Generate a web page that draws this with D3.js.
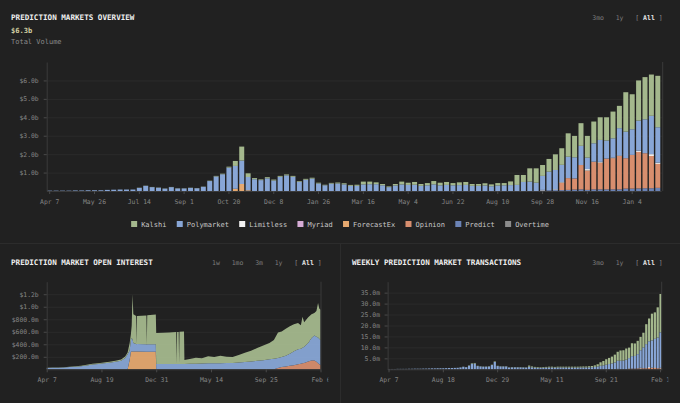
<!DOCTYPE html>
<html>
<head>
<meta charset="utf-8">
<title>Prediction Markets Overview</title>
<script src="https://cdnjs.cloudflare.com/ajax/libs/d3/7.8.5/d3.min.js"></script>
<style>
  html, body { margin: 0; padding: 0; background: #212121; }
  svg { display: block; }
  text { font-family: "DejaVu Sans Mono", "Liberation Mono", monospace; }
</style>
</head>
<body>
<script>
//market names and colours, in legend order
var seriesNames = ["Kalshi", "Polymarket", "Limitless", "Myriad", "ForecastEx", "Opinion", "Predict", "Overtime"];
var seriesColors = ["#a4b88d", "#88a6d6", "#f2f2f2", "#d6acd6", "#e6a970", "#d88e6e", "#6b83b6", "#8c8c8c"];

//weekly volume in $ billions, one value per week starting Apr 7 2024
var volStart = "2024-04-07";
var volKalshi = [
  0, 0, 0, 0, 0, 0, 0, 0, 0, 0, 0, 0,
  0, 0, .01, .01, .01, .01, .01, .01, .01, .01, .01, .01,
  .01, .02, .03, .03, .05, .27, .76, .2, .06, .04, .06, .05,
  .05, .05, .05, .04, .05, .05, .04, .03, .04, .05, .06, .05,
  .06, .15, .14, .1, .07, .04, .08, .15, .12, .15, .1, .12,
  .18, .14, .16, .12, .15, .16, .1, .1, .12, .1, .13, .12,
  .2, .54, .38, .72, .78, .59, .69, .85, .9, 1.27, 1.16, 1.23,
  1.18, 1.18, 1.23, 1.26, 1.45, 1.21, 2.14, 1.9, 2.18, 2.29, 2.24, 2.79
];
var volPolymarket = [
  .02, .02, .02, .02, .03, .03, .04, .04, .04, .06, .07, .08,
  .08, .08, .17, .28, .21, .18, .13, .21, .14, .14, .17, .15,
  .23, .54, .79, .91, 1.27, 1.24, 1.27, .72, .64, .59, .69, .57,
  .77, .85, .77, .5, .61, .67, .41, .31, .4, .41, .36, .28,
  .28, .36, .37, .37, .31, .21, .3, .36, .33, .34, .28, .31,
  .36, .31, .33, .31, .32, .33, .28, .28, .3, .26, .3, .31,
  .32, .33, .49, .51, .45, .76, 1.01, 1.05, .94, 1.16, 1.15, 1.04,
  .62, 1.0, 1.19, .98, 1.05, 1.48, 1.44, 1.39, 1.63, 1.84, 2.08, 1.92
];
var volLimitless = [
  0, 0, 0, 0, 0, 0, 0, 0, 0, 0, 0, 0,
  0, 0, 0, 0, 0, 0, 0, 0, 0, 0, 0, 0,
  0, 0, 0, 0, 0, 0, 0, 0, 0, 0, 0, 0,
  0, 0, 0, 0, 0, 0, 0, 0, 0, 0, 0, 0,
  0, 0, 0, 0, 0, 0, 0, 0, 0, 0, 0, 0,
  0, 0, 0, 0, 0, 0, 0, 0, 0, 0, 0, 0,
  0, 0, 0, 0, 0, .03, 0, .04, .03, 0, 0, 0,
  .08, 0, .04, 0, .03, .03, 0, 0, .07, 0, .1, .07
];
var volForecastEx = [
  0, 0, 0, 0, 0, 0, 0, 0, 0, 0, 0, 0,
  0, 0, 0, 0, 0, 0, 0, 0, 0, 0, 0, 0,
  0, 0, 0, 0, 0, .12, .38, .04, 0, 0, 0, 0,
  0, 0, 0, 0, 0, 0, 0, 0, 0, 0, 0, 0,
  0, 0, 0, 0, 0, 0, 0, 0, 0, 0, 0, 0,
  0, 0, 0, 0, 0, 0, 0, 0, 0, 0, 0, 0,
  0, 0, 0, 0, 0, 0, 0, 0, 0, 0, 0, 0,
  0, 0, 0, 0, 0, 0, 0, 0, 0, 0, 0, 0
];
var volOpinion = [
  0, 0, 0, 0, 0, 0, 0, 0, 0, 0, 0, 0,
  0, 0, 0, 0, 0, 0, 0, 0, 0, 0, 0, 0,
  0, 0, 0, 0, 0, 0, 0, 0, 0, 0, 0, 0,
  0, 0, 0, 0, 0, 0, 0, 0, 0, 0, 0, 0,
  0, 0, 0, 0, 0, 0, 0, 0, 0, 0, 0, 0,
  0, 0, 0, 0, 0, 0, 0, 0, 0, 0, 0, 0,
  0, 0, 0, 0, 0, 0, 0, 0, .4, .64, .6, 1.32,
  1.05, 1.5, 1.45, 1.67, 1.69, 1.81, 1.65, 1.83, 1.98, 1.9, 1.75, 1.3
];
var volPredict = [
  0, 0, 0, 0, 0, 0, 0, 0, 0, 0, 0, 0,
  0, 0, 0, 0, 0, 0, 0, 0, 0, 0, 0, 0,
  0, 0, 0, 0, 0, 0, 0, 0, 0, 0, 0, 0,
  0, 0, 0, 0, 0, 0, 0, 0, 0, 0, 0, 0,
  0, 0, 0, 0, 0, 0, 0, 0, 0, 0, 0, 0,
  0, 0, 0, 0, 0, 0, 0, 0, 0, 0, 0, 0,
  0, 0, 0, 0, 0, .03, .04, .05, .05, .06, .08, .09,
  .06, .09, .09, .09, .09, .09, .13, .13, .14, .15, .15, .17
];
var volYTicks = [1, 2, 3, 4, 5, 6];
var volTotalLabel = "$6.3b";

//open interest in $ millions, read at these days after Apr 7 2024
var oiStart = "2024-04-07";
var oiDays = [0, 14, 28, 42, 56, 70, 84, 98, 112, 126, 140, 154, 168, 182, 192, 198, 203, 206, 208, 210,
  212, 219, 220, 221, 244, 245, 246, 260, 267, 268, 285, 300, 317, 318, 319, 323, 324, 325, 336, 337,
  350, 365, 380, 395, 410, 425, 440, 455, 470, 485, 500, 515, 530, 545, 556, 566, 575, 585, 595, 605,
  615, 622, 626, 630, 640, 648, 655, 660, 664, 667, 670];
var oiKalshi = [3, 3, 4, 4, 5, 6, 8, 10, 12, 13, 14, 16, 18, 20, 25, 30, 120, 90, 200, 720,
  460, 445, 0, 447, 460, 2, 462, 470, 475, 495, 500, 504, 509, 9, 511, 512, 9, 514, 519, 65,
  77, 95, 83, 115, 100, 117, 100, 95, 122, 150, 170, 205, 235, 260, 300, 410, 410, 435, 440, 430,
  420, 375, 495, 390, 410, 380, 360, 410, 550, 480, 480];
var oiPolymarket = [22, 24, 26, 30, 35, 41, 50, 62, 78, 85, 96, 104, 120, 135, 180, 240, 150, 190, 215, 195,
  135, 120, 115, 120, 118, 116, 118, 118, 118, 85, 85, 86, 86, 86, 86, 86, 86, 86, 86, 85,
  88, 90, 92, 95, 95, 98, 100, 100, 108, 115, 125, 135, 145, 160, 170, 160, 160, 170, 195, 225,
  240, 240, 250, 260, 295, 360, 400, 400, 415, 410, 400];
var oiForecastEx = [0, 0, 0, 0, 0, 0, 0, 0, 0, 0, 0, 0, 0, 0, 0, 0, 150, 280, 285, 285,
  285, 285, 285, 285, 282, 282, 282, 282, 282, 0, 0, 0, 0, 0, 0, 0, 0, 0, 0, 0,
  0, 0, 0, 0, 0, 0, 0, 0, 0, 0, 0, 0, 0, 0, 0, 0, 0, 0, 0, 0,
  0, 0, 0, 0, 0, 0, 0, 0, 0, 0, 0];
var oiOpinion = [0, 0, 0, 0, 0, 0, 0, 0, 0, 0, 0, 0, 0, 0, 0, 0, 0, 0, 0, 0,
  0, 0, 0, 0, 0, 0, 0, 0, 0, 0, 0, 0, 0, 0, 0, 0, 0, 0, 0, 0,
  0, 0, 0, 0, 0, 0, 0, 0, 0, 0, 0, 0, 0, 0, 0, 20, 35, 45, 55, 65,
  80, 90, 95, 100, 125, 140, 140, 120, 95, 80, 70];
var oiYTicks = [200, 400, 600, 800, 1000, 1200];
var oiXTicks = ["2024-04-07", "2024-08-19", "2024-12-31", "2025-05-14", "2025-09-25", "2026-02-06"];
var oiEnd = "2026-02-06";

//weekly transactions in millions, same weeks as the volume chart
var txKalshi = [
  .01, .01, .01, .01, .01, .01, .01, .01, .01, .01, .02, .02,
  .02, .02, .02, .02, .02, .02, .02, .02, .02, .02, .02, .02,
  .02, .05, .05, .05, .15, .25, .3, .12, .1, .1, .1, .1,
  .15, .25, .12, .1, .1, .1, .08, .1, .1, .1, .12, .12,
  .12, .5, .4, .33, .3, .27, .3, .33, .36, .36, .33, .36,
  .36, .38, .38, .38, .4, .4, .4, .42, .45, .45, .5, .55,
  .7, 1.0, 1.6, 2.0, 2.5, 2.8, 3.1, 3.6, 4.1, 4.7, 4.7, 5.1,
  4.8, 5.9, 5.7, 6.1, 6.1, 6.7, 9.1, 10.4, 12.2, 12.1, 13.8, 17.5
];
var txPolymarket = [
  .14, .14, .14, .19, .19, .19, .19, .24, .24, .29, .28, .28,
  .33, .33, .38, .43, .43, .48, .48, .48, .53, .58, .58, .63,
  .68, .85, 1.15, .95, 1.65, 2.5, 2.6, 1.48, 1.3, 1.2, 1.2, 1.3,
  1.95, 3.35, 1.48, 1.3, 1.3, 1.3, .82, .9, .9, .9, .88, .83,
  .78, 1.2, .9, .77, .7, .63, .7, .77, .84, .84, .77, .84,
  .84, .82, .82, .82, .8, .8, .8, .83, .85, .85, .9, .95,
  1.1, 1.3, 1.6, 1.8, 2.1, 2.4, 2.7, 3.1, 3.7, 3.9, 4.0, 4.4,
  4.7, 5.7, 5.8, 6.5, 8.0, 9.5, 11.0, 11.8, 12.5, 13.0, 14.0, 16.2
];
var txLimitless = [
  0, 0, 0, 0, 0, 0, 0, 0, 0, 0, 0, 0,
  0, 0, 0, 0, 0, 0, 0, 0, 0, 0, 0, 0,
  0, 0, 0, 0, 0, 0, 0, 0, 0, 0, 0, 0,
  0, 0, 0, 0, 0, 0, 0, 0, 0, 0, 0, 0,
  0, 0, 0, 0, 0, 0, 0, 0, 0, 0, 0, 0,
  0, 0, 0, 0, 0, 0, 0, 0, 0, 0, 0, 0,
  0, 0, 0, 0, 0, 0, 0, 0, .2, 0, 0, 0,
  .2, 0, 0, 0, .3, 0, 0, .4, 0, .3, 0, .3
];
var txOpinion = [
  0, 0, 0, 0, 0, 0, 0, 0, 0, 0, 0, 0,
  0, 0, 0, 0, 0, 0, 0, 0, 0, 0, 0, 0,
  0, 0, 0, 0, 0, 0, 0, 0, 0, 0, 0, 0,
  0, 0, 0, 0, 0, 0, 0, 0, 0, 0, 0, 0,
  0, 0, 0, 0, 0, 0, 0, 0, 0, 0, 0, 0,
  0, 0, 0, 0, 0, 0, 0, 0, 0, 0, 0, 0,
  0, 0, 0, 0, 0, 0, 0, 0, 0, 0, 0, 0,
  .2, .3, .3, .4, .4, .5, .5, .6, .7, .6, .5, .4
];
var txYTicks = [5, 10, 15, 20, 25, 30, 35];
var txXTickIdx = [0, 19, 38, 57, 76, 95];

//shared helpers
var parseDate = d3.timeParse("%Y-%m-%d");
var fmtDate = d3.timeFormat("%b %-d");
var color = d3.scaleOrdinal(seriesNames, seriesColors);
var stackKeys = seriesNames.slice().reverse();   //bottom of the stack is the end of the legend
var weekDate = function(i) { return d3.timeWeek.offset(parseDate(volStart), i); };

var axisText = "#858585",
    axisLine = "#3b3b3b",
    gridLine = "#2b2b2b";

//colour the axis parts after d3 has drawn them
function styleAxis(g) {
  g.select(".domain").attr("stroke", axisLine);
  g.selectAll(".tick line").attr("stroke", "#4a4a4a");
  g.selectAll(".tick text")
    .attr("fill", axisText)
    .style("font-size", "6.4px");
}

//range buttons in each panel header, right aligned at xEnd
function addButtons(svg, labels, xEnd, y) {
  var t = svg.append("text")
    .attr("x", xEnd)
    .attr("y", y)
    .attr("text-anchor", "end")
    .style("font-size", "6.5px")
    .attr("xml:space", "preserve");
  labels.forEach(function(l) {
    t.append("tspan").attr("fill", "#7d7d7d").text(l + "   ");
  });
  t.append("tspan").attr("fill", "#8a8a8a").text("[ ");
  t.append("tspan").attr("fill", "#e6e6e6").style("font-weight", "bold").text("All");
  t.append("tspan").attr("fill", "#8a8a8a").text(" ]");
}

function addTitle(svg, x, y, txt) {
  svg.append("text")
    .attr("x", x)
    .attr("y", y)
    .attr("fill", "#efefef")
    .style("font-size", "7.6px")
    .style("font-weight", "bold")
    .text(txt);
}

//the one svg holding all three panels
var svg = d3.select("body").append("svg")
  .attr("width", 680)
  .attr("height", 403);

svg.append("rect").attr("width", 680).attr("height", 403).attr("fill", "#212121");

//panel separators
svg.append("line").attr("x1", 0).attr("x2", 680).attr("y1", 243.5).attr("y2", 243.5).attr("stroke", "#2c2c2c");
svg.append("line").attr("x1", 340.5).attr("x2", 340.5).attr("y1", 244).attr("y2", 403).attr("stroke", "#2c2c2c");

//================= top panel: weekly volume =================
addTitle(svg, 11, 19.5, "PREDICTION MARKETS OVERVIEW");
addButtons(svg, ["3mo", "1y"], 662.7, 20);

svg.append("text")
  .attr("x", 11).attr("y", 33)
  .attr("fill", "#d3cfa3")
  .style("font-size", "7.1px")
  .style("font-weight", "bold")
  .text(volTotalLabel);

svg.append("text")
  .attr("x", 11).attr("y", 43.5)
  .attr("fill", "#8a8a8a")
  .style("font-size", "7px")
  .text("Total Volume");

var volRows = volKalshi.map(function(v, i) {
  return {
    i: i,
    Kalshi: volKalshi[i],
    Polymarket: volPolymarket[i],
    Limitless: volLimitless[i],
    ForecastEx: volForecastEx[i],
    Opinion: volOpinion[i],
    Predict: volPredict[i]
  };
});

var volX = d3.scaleBand()
  .domain(d3.range(volRows.length))
  .range([46.5, 661])
  .paddingInner(0.22)
  .paddingOuter(0.11);

var volY = d3.scaleLinear().domain([0, 7]).range([191, 62]);

//grid lines
svg.append("g")
  .attr("transform", "translate(46.7,0)")
  .call(d3.axisLeft(volY).tickValues(volYTicks).tickSize(-616).tickFormat(""))
  .call(function(g) {
    g.select(".domain").remove();
    g.selectAll(".tick line").attr("stroke", gridLine);
  });

var volStack = d3.stack()
  .keys(stackKeys)
  .value(function(d, k) { return d[k] || 0; })(volRows);

svg.append("g")
  .selectAll("g")
  .data(volStack)
  .join("g")
  .attr("fill", function(d) { return color(d.key); })
  .selectAll("rect")
  .data(function(d) { return d; })
  .join("rect")
  .attr("x", function(d) { return volX(d.data.i); })
  .attr("width", volX.bandwidth())
  .attr("y", function(d) { return volY(d[1]); })
  .attr("height", function(d) { return Math.max(0, volY(d[0]) - volY(d[1])); });

svg.append("g")
  .attr("transform", "translate(46.7,0)")
  .call(d3.axisLeft(volY)
    .tickValues(volYTicks)
    .tickSize(3)
    .tickSizeOuter(0)
    .tickPadding(5)
    .tickFormat(function(d) { return "$" + d.toFixed(1) + "b"; }))
  .call(styleAxis);

svg.append("g")
  .attr("transform", "translate(0,191)")
  .call(d3.axisBottom(volX)
    .tickValues(d3.range(0, volRows.length, 7))
    .tickSize(3)
    .tickSizeOuter(0)
    .tickPadding(5.5)
    .tickFormat(function(i) { return fmtDate(weekDate(i)); }))
  .call(styleAxis);

svg.append("line")
  .attr("x1", 662.7).attr("x2", 662.7)
  .attr("y1", 62).attr("y2", 191)
  .attr("stroke", axisLine);

//legend, centred under the chart
var legend = svg.append("g");
var lx = 0;
seriesNames.forEach(function(name) {
  var item = legend.append("g").attr("transform", "translate(" + lx + ",0)");
  item.append("rect")
    .attr("x", 0).attr("y", 221)
    .attr("width", 6).attr("height", 6)
    .attr("fill", color(name));
  var t = item.append("text")
    .attr("x", 10).attr("y", 227)
    .attr("fill", "#c8c8c8")
    .style("font-size", "7px")
    .text(name);
  lx += 10 + t.node().getComputedTextLength() + 10.3;
});
legend.attr("transform", "translate(" + (340 - (lx - 10.3) / 2) + ",0)");

//================= bottom left: open interest =================
addTitle(svg, 11, 265, "PREDICTION MARKET OPEN INTEREST");
addButtons(svg, ["1w", "1mo", "3m", "1y"], 321.7, 265);

var oiRows = oiDays.map(function(day, i) {
  return {
    date: d3.timeDay.offset(parseDate(oiStart), day),
    Kalshi: oiKalshi[i],
    Polymarket: oiPolymarket[i],
    ForecastEx: oiForecastEx[i],
    Opinion: oiOpinion[i]
  };
});

var oiX = d3.scaleTime()
  .domain([parseDate(oiStart), parseDate(oiEnd)])
  .range([46.7, 320.5]);

var oiY = d3.scaleLinear().domain([0, 1400]).range([369.3, 281.7]);

svg.append("defs").append("clipPath")
  .attr("id", "clipLeft")
  .append("rect")
  .attr("x", 0).attr("y", 244).attr("width", 328.3).attr("height", 159);

var oiG = svg.append("g").attr("clip-path", "url(#clipLeft)");

oiG.append("g")
  .attr("transform", "translate(46.7,0)")
  .call(d3.axisLeft(oiY).tickValues(oiYTicks).tickSize(-274).tickFormat(""))
  .call(function(g) {
    g.select(".domain").remove();
    g.selectAll(".tick line").attr("stroke", gridLine);
  });

var oiStack = d3.stack()
  .keys(stackKeys)
  .value(function(d, k) { return d[k] || 0; })(oiRows);

var oiArea = d3.area()
  .x(function(d) { return oiX(d.data.date); })
  .y0(function(d) { return oiY(d[0]); })
  .y1(function(d) { return oiY(d[1]); });

oiG.append("g")
  .selectAll("path")
  .data(oiStack)
  .join("path")
  .attr("fill", function(d) { return color(d.key); })
  .attr("fill-opacity", 0.95)
  .attr("d", oiArea);

oiG.append("g")
  .attr("transform", "translate(46.7,0)")
  .call(d3.axisLeft(oiY)
    .tickValues(oiYTicks)
    .tickSize(3)
    .tickSizeOuter(0)
    .tickPadding(5)
    .tickFormat(function(d) { return d >= 1000 ? "$" + (d / 1000).toFixed(1) + "b" : "$" + d.toFixed(1) + "m"; }))
  .call(styleAxis);

oiG.append("g")
  .attr("transform", "translate(0,369.3)")
  .call(d3.axisBottom(oiX)
    .tickValues(oiXTicks.map(parseDate))
    .tickSize(3)
    .tickSizeOuter(0)
    .tickPadding(5.5)
    .tickFormat(fmtDate))
  .call(styleAxis);

oiG.append("line")
  .attr("x1", 321).attr("x2", 321)
  .attr("y1", 281.7).attr("y2", 369.3)
  .attr("stroke", axisLine);

//================= bottom right: weekly transactions =================
addTitle(svg, 352, 265, "WEEKLY PREDICTION MARKET TRANSACTIONS");
addButtons(svg, ["3mo", "1y"], 662.7, 265);

var txRows = txKalshi.map(function(v, i) {
  return {
    i: i,
    Kalshi: txKalshi[i],
    Polymarket: txPolymarket[i],
    Limitless: txLimitless[i],
    Opinion: txOpinion[i]
  };
});

var txX = d3.scaleBand()
  .domain(d3.range(txRows.length))
  .range([387.6, 662])
  .paddingInner(0.22)
  .paddingOuter(0.11);

var txY = d3.scaleLinear().domain([0, 40]).range([369.3, 281.7]);

svg.append("defs").append("clipPath")
  .attr("id", "clipRight")
  .append("rect")
  .attr("x", 341).attr("y", 244).attr("width", 327.3).attr("height", 159);

var txG = svg.append("g").attr("clip-path", "url(#clipRight)");

txG.append("g")
  .attr("transform", "translate(387.6,0)")
  .call(d3.axisLeft(txY).tickValues(txYTicks).tickSize(-274).tickFormat(""))
  .call(function(g) {
    g.select(".domain").remove();
    g.selectAll(".tick line").attr("stroke", gridLine);
  });

var txStack = d3.stack()
  .keys(stackKeys)
  .value(function(d, k) { return d[k] || 0; })(txRows);

txG.append("g")
  .selectAll("g")
  .data(txStack)
  .join("g")
  .attr("fill", function(d) { return color(d.key); })
  .selectAll("rect")
  .data(function(d) { return d; })
  .join("rect")
  .attr("x", function(d) { return txX(d.data.i); })
  .attr("width", txX.bandwidth())
  .attr("y", function(d) { return txY(d[1]); })
  .attr("height", function(d) { return Math.max(0, txY(d[0]) - txY(d[1])); });

txG.append("g")
  .attr("transform", "translate(387.6,0)")
  .call(d3.axisLeft(txY)
    .tickValues(txYTicks)
    .tickSize(3)
    .tickSizeOuter(0)
    .tickPadding(4.6)
    .tickFormat(function(d) { return d.toFixed(1) + "m"; }))
  .call(styleAxis);

txG.append("g")
  .attr("transform", "translate(0,369.3)")
  .call(d3.axisBottom(txX)
    .tickValues(txXTickIdx)
    .tickSize(3)
    .tickSizeOuter(0)
    .tickPadding(5.5)
    .tickFormat(function(i) { return fmtDate(weekDate(i)); }))
  .call(styleAxis);

txG.append("line")
  .attr("x1", 661.7).attr("x2", 661.7)
  .attr("y1", 281.7).attr("y2", 369.3)
  .attr("stroke", axisLine);
</script>
</body>
</html>
